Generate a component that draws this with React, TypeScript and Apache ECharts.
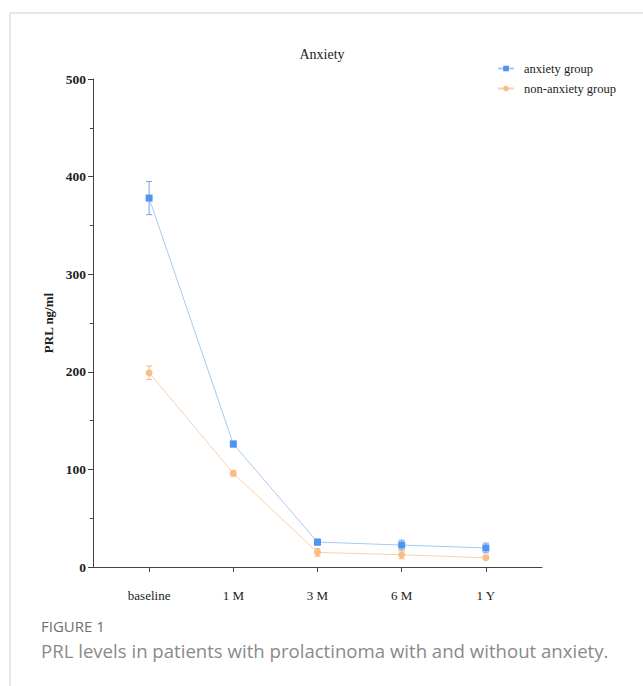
import React, { useEffect, useRef } from "react";
import * as echarts from "echarts";

const categories = ["baseline", "1 M", "3 M", "6 M", "1 Y"];
const anxietyMean = [378, 126, 25.5, 22.5, 19.5];
const anxietyErr = [17, 3, 3, 5, 5];
const nonAnxietyMean = [199, 96, 15, 12.5, 9.5];
const nonAnxietyErr = [7, 3, 4, 4, 2];
const yTicks = [0, 100, 200, 300, 400, 500];

const BLUE = "#4f94ee";
const BLUE_LINE = "#a8c9f4";
const ORANGE = "#f9bd86";
const ORANGE_LINE = "#fbd1aa";

function errorSeries(means: number[], errs: number[], color: string) {
  return {
    type: "custom",
    silent: true,
    z: 3,
    data: means.map((m, i) => [i, m - errs[i], m + errs[i]]),
    renderItem: (params: any, api: any) => {
      const x = api.value(0);
      const lo = api.coord([x, api.value(1)]);
      const hi = api.coord([x, api.value(2)]);
      const hw = 3;
      const style = { stroke: color, lineWidth: 1, fill: "none" };
      return {
        type: "group",
        children: [
          { type: "line", shape: { x1: lo[0], y1: lo[1], x2: hi[0], y2: hi[1] }, style },
          { type: "line", shape: { x1: lo[0] - hw, y1: lo[1], x2: lo[0] + hw, y2: lo[1] }, style },
          { type: "line", shape: { x1: hi[0] - hw, y1: hi[1], x2: hi[0] + hw, y2: hi[1] }, style },
        ],
      };
    },
  };
}

export default function App() {
  const ref = useRef<HTMLDivElement>(null);
  useEffect(() => {
    if (!ref.current) return;
    const chart = echarts.init(ref.current, null, { renderer: "svg" });
    const serif = "'Liberation Serif', 'Times New Roman', serif";
    chart.setOption({
      animation: false,
      backgroundColor: "#fff",
      title: {
        text: "Anxiety",
        left: 317,
        top: 42,
        textAlign: "center",
        textStyle: { fontFamily: serif, fontSize: 14, fontWeight: "normal", color: "#222" },
      },
      legend: {
        orient: "vertical",
        left: 492,
        top: 57,
        itemWidth: 16,
        itemHeight: 7,
        itemGap: 7,
        data: ["anxiety group", "non-anxiety group"],
        textStyle: { fontFamily: serif, fontSize: 12.5, color: "#222", padding: [0, 0, 0, 5] },
      },
      grid: { left: 93, right: 101, top: 79, bottom: 119 },
      xAxis: {
        type: "value",
        min: -2 / 3,
        max: 14 / 3,
        splitLine: { show: false },
        axisLine: { show: true, onZero: false, lineStyle: { color: "#444", width: 1 } },
        axisTick: { show: true, customValues: [0, 1, 2, 3, 4], length: 5, lineStyle: { color: "#444" } },
        axisLabel: {
          customValues: [0, 1, 2, 3, 4],
          formatter: (v: number) => categories[Math.round(v)] ?? "",
          margin: 22,
          fontFamily: serif,
          fontSize: 13,
          color: "#222",
        },
      },
      yAxis: {
        type: "value",
        min: 0,
        max: 500,
        interval: 100,
        name: "PRL ng/ml",
        nameLocation: "middle",
        nameGap: 36,
        nameTextStyle: { fontFamily: serif, fontSize: 13, fontWeight: "bold", color: "#222" },
        splitLine: { show: false },
        axisLine: { show: true, onZero: false, lineStyle: { color: "#444", width: 1 } },
        axisTick: { show: true, length: 5, lineStyle: { color: "#444" } },
        minorTick: { show: true, splitNumber: 2, length: 3, lineStyle: { color: "#444" } },
        axisLabel: {
          formatter: (v: number) => (yTicks.includes(v) ? String(v) : ""),
          margin: 7,
          fontFamily: serif,
          fontSize: 13.5,
          fontWeight: "bold",
          color: "#222",
        },
      },
      series: [
        {
          name: "anxiety group",
          type: "line",
          data: anxietyMean.map((v, i) => [i, v]),
          symbol: "rect",
          symbolSize: 7,
          itemStyle: { color: BLUE },
          lineStyle: { color: BLUE_LINE, width: 1 },
          z: 4,
        },
        {
          name: "non-anxiety group",
          type: "line",
          data: nonAnxietyMean.map((v, i) => [i, v]),
          symbol: "circle",
          symbolSize: 7,
          itemStyle: { color: ORANGE },
          lineStyle: { color: ORANGE_LINE, width: 1 },
          z: 4,
        },
        errorSeries(anxietyMean, anxietyErr, "#6ea3ea"),
        errorSeries(nonAnxietyMean, nonAnxietyErr, "#f4b98a"),
      ],
      graphic: [
        {
          type: "rect",
          shape: { x: 10, y: 13, width: 800, height: 800 },
          style: { fill: "none", stroke: "#d0d0d0", lineWidth: 1 },
          silent: true,
          z: -1,
        },
        {
          type: "text",
          left: 41,
          top: 618,
          style: {
            text: "FIGURE 1",
            fontFamily: "'Open Sans', sans-serif",
            fontSize: 15,
            fontWeight: 500,
            fill: "#707070",
          },
        },
        {
          type: "text",
          left: 41,
          top: 641,
          style: {
            text: "PRL levels in patients with prolactinoma with and without anxiety.",
            fontFamily: "'Open Sans', sans-serif",
            fontSize: 18.6,
            fill: "#8a8a8a",
          },
        },
      ],
    });
    return () => chart.dispose();
  }, []);
  return (
    <div
      ref={ref}
      style={{ position: "fixed", left: 0, top: 0, width: 643, height: 686 }}
    />
  );
}
